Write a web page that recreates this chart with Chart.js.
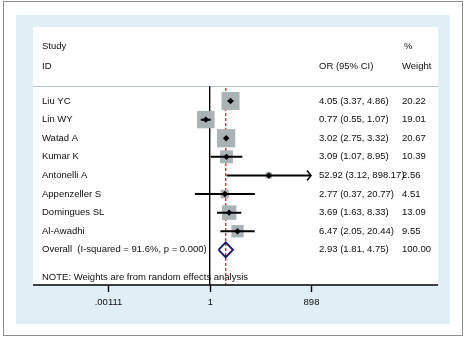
<!DOCTYPE html>
<html>
<head>
<meta charset="utf-8">
<script src="https://cdn.jsdelivr.net/npm/chart.js@4"></script>
<style>
  html, body { margin: 0; padding: 0; background: #fff; }
  #wrap { width: 467px; height: 338px; position: relative; }
</style>
</head>
<body>
<div id="wrap"><canvas id="forest"></canvas></div>
<script>
// ── Data ──────────────────────────────────────────────────────────────────────
const studies = ['Liu YC', 'Lin WY', 'Watad A', 'Kumar K', 'Antonelli A', 'Appenzeller S', 'Domingues SL', 'Al-Awadhi'];
const oddsRatio = [4.05, 0.77, 3.02, 3.09, 52.92, 2.77, 3.69, 6.47];
const ciLow = [3.37, 0.55, 2.75, 1.07, 3.12, 0.37, 1.63, 2.05];
const ciHigh = [4.86, 1.07, 3.32, 8.95, 898.17, 20.77, 8.33, 20.44];
const weights = [20.22, 19.01, 20.67, 10.39, 2.56, 4.51, 13.09, 9.55];

const overallLabel = 'Overall  (I-squared = 91.6%, p = 0.000)';
const overallOR = 2.93;
const overallLow = 1.81;
const overallHigh = 4.75;
const overallWeight = 100.00;

const xTicks = [0.00111, 1, 898];
const xTickLabels = ['.00111', '1', '898'];

const noteText = 'NOTE: Weights are from random effects analysis';

// ── Layout helpers ────────────────────────────────────────────────────────────
const FONT = '9.5px "Liberation Sans", Arial, sans-serif';
const TEXT = '#0e0e0e';
const rowY = i => i + 1;                 // study rows 1..8, overall 9
const overallRow = studies.length + 1;
const fmt2 = n => n.toFixed(2);
const ciText = (o, l, h) => fmt2(o) + ' (' + fmt2(l) + ', ' + fmt2(h) + ')';

// CI segments, separated by gaps
const ciSegments = [];
studies.forEach((s, i) => {
  ciSegments.push({ x: ciLow[i], y: rowY(i) });
  ciSegments.push({ x: Math.min(ciHigh[i], xTicks[2]), y: rowY(i) });
  ciSegments.push({ x: ciLow[i], y: null });
});

const diamondH = 0.4;
const diamond = [
  { x: overallLow, y: overallRow },
  { x: overallOR, y: overallRow - diamondH },
  { x: overallHigh, y: overallRow },
  { x: overallOR, y: overallRow + diamondH },
  { x: overallLow, y: overallRow }
];

// ── Plugin: background panels, text columns, axis ─────────────────────────────
const forestDecor = {
  id: 'forestDecor',
  beforeDraw(chart) {
    const { ctx, chartArea: a } = chart;
    ctx.save();
    ctx.fillStyle = '#ffffff';
    ctx.fillRect(0, 0, chart.width, chart.height);
    ctx.strokeStyle = '#8c8c8c';
    ctx.lineWidth = 1;
    ctx.strokeRect(3.5, 1.5, 459, 334);
    ctx.fillStyle = '#e0eff5';
    ctx.fillRect(16, 15, 434, 309);
    ctx.fillStyle = '#ffffff';
    ctx.fillRect(a.left, a.top, a.right - a.left, a.bottom - a.top);
    // divider under header
    ctx.strokeStyle = '#b8c8d0';
    ctx.beginPath();
    ctx.moveTo(a.left, 86.5);
    ctx.lineTo(a.right, 86.5);
    ctx.stroke();

    // text
    const y = chart.scales.y;
    ctx.font = FONT;
    ctx.fillStyle = TEXT;
    ctx.textBaseline = 'middle';
    ctx.textAlign = 'left';
    ctx.fillText('Study', 42, 46);
    ctx.fillText('ID', 42, 66);
    ctx.fillText('%', 404, 46);
    ctx.fillText('OR (95% CI)', 319, 66);
    ctx.fillText('Weight', 402, 66);
    studies.forEach((s, i) => {
      const py = y.getPixelForValue(rowY(i));
      ctx.fillText(s, 42, py);
      ctx.fillText(ciText(oddsRatio[i], ciLow[i], ciHigh[i]), 319, py);
      ctx.fillText(fmt2(weights[i]), 402, py);
    });
    const oy = y.getPixelForValue(overallRow);
    ctx.fillText(overallLabel, 42, oy);
    ctx.fillText(ciText(overallOR, overallLow, overallHigh), 319, oy);
    ctx.fillText(fmt2(overallWeight), 402, oy);
    ctx.fillText(noteText, 42, 277.5);
    ctx.restore();
  },
  afterDatasetsDraw(chart) {
    const { ctx, chartArea: a } = chart;
    const x = chart.scales.x, y = chart.scales.y;
    ctx.save();
    // arrows for truncated CIs
    ctx.strokeStyle = '#000';
    ctx.lineWidth = 1.5;
    studies.forEach((s, i) => {
      if (ciHigh[i] > xTicks[2]) {
        const px = x.getPixelForValue(xTicks[2]);
        const py = y.getPixelForValue(rowY(i));
        ctx.beginPath();
        ctx.moveTo(px - 4, py - 5);
        ctx.lineTo(px, py);
        ctx.lineTo(px - 4, py + 5);
        ctx.stroke();
      }
    });
    // x axis
    ctx.lineWidth = 1.4;
    ctx.beginPath();
    ctx.moveTo(a.left, a.bottom);
    ctx.lineTo(a.right, a.bottom);
    ctx.stroke();
    ctx.font = FONT;
    ctx.fillStyle = TEXT;
    ctx.textAlign = 'center';
    ctx.textBaseline = 'middle';
    xTicks.forEach((t, i) => {
      const px = Math.round(x.getPixelForValue(t)) + 0.5;
      ctx.beginPath();
      ctx.moveTo(px, a.bottom);
      ctx.lineTo(px, a.bottom + 7);
      ctx.stroke();
      ctx.fillText(xTickLabels[i], px, 302.5);
    });
    ctx.restore();
  }
};

// ── Chart ─────────────────────────────────────────────────────────────────────
const squares = studies.map((s, i) => ({ x: oddsRatio[i], y: rowY(i) }));
const points = squares.slice();

new Chart(document.getElementById('forest'), {
  type: 'scatter',
  data: {
    datasets: [
      {
        // null line at OR = 1
        type: 'line',
        data: [{ x: 1, y: 0.2 }, { x: 1, y: 10.9 }],
        borderColor: '#000', borderWidth: 1.4,
        pointRadius: 0, order: 6
      },
      {
        // overall estimate line
        type: 'line',
        data: [{ x: overallOR, y: 0.3 }, { x: overallOR, y: 10.9 }],
        borderColor: '#d2202f', borderWidth: 1.3, borderDash: [3, 2],
        pointRadius: 0, order: 5
      },
      {
        data: squares,
        pointStyle: 'rect',
        pointRadius: weights.map(w => 2.83 * Math.sqrt(w)),
        backgroundColor: '#a9b2b5', borderWidth: 0,
        order: 4
      },
      {
        type: 'line',
        data: ciSegments,
        borderColor: '#000', borderWidth: 2,
        pointRadius: 0, spanGaps: false,
        order: 3
      },
      {
        data: points,
        pointStyle: 'rectRot',
        pointRadius: 3.2,
        backgroundColor: '#000', borderColor: '#000', borderWidth: 0,
        order: 2
      },
      {
        type: 'line',
        data: diamond,
        borderColor: '#1c1f72', borderWidth: 2,
        pointRadius: 0, fill: false, order: 1
      }
    ]
  },
  options: {
    responsive: true,
    maintainAspectRatio: false,
    animation: false,
    events: [],
    layout: { padding: { left: 33, right: 29, top: 27, bottom: 53 } },
    plugins: { legend: { display: false }, tooltip: { enabled: false } },
    scales: {
      x: { type: 'logarithmic', display: false, bounds: 'data', min: 7.08e-6, max: 4.51e6 },
      y: { type: 'linear', display: false, bounds: 'data', reverse: true, min: -2.98, max: 10.89 }
    }
  },
  plugins: [forestDecor]
});
</script>
</body>
</html>
